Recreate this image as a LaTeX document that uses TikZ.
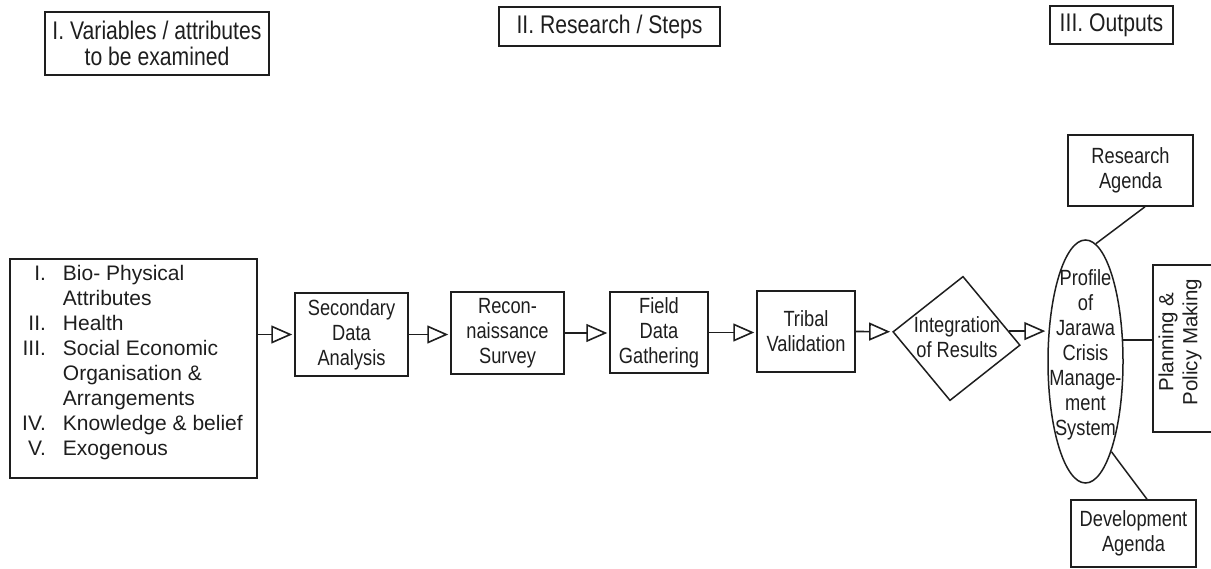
\documentclass[tikz,border=0pt]{standalone}
\usepackage{fontspec}
\setmainfont{Liberation Sans}
\newfontfamily\condf[FakeStretch=0.83]{Liberation Sans}
\usetikzlibrary{arrows.meta,shapes.geometric,calc}
\definecolor{ink}{HTML}{1e1e1e}
\begin{document}
\begin{tikzpicture}[x=1pt,y=1pt,
  box/.style={draw=ink, line width=1.5pt, inner sep=0pt},
  bodytxt/.style={text=ink, font=\condf\fontsize{22}{25}\selectfont, align=center},
  hdr/.style={text=ink, font=\condf\fontsize{25.5}{26.5}\selectfont, align=center},
  arr/.style={draw=ink, line width=1.6pt, -{Triangle[open,length=21pt,width=18pt,line width=1.6pt]}, shorten >=2pt},
  link/.style={draw=ink, line width=1.5pt}]
\useasboundingbox (0,0) rectangle (1211,-569);

% headers
\node[box, minimum width=224pt, minimum height=63pt, hdr] (h1) at (157,-43.5) {I. Variables / attributes\\to be examined};
\node[box, minimum width=221pt, minimum height=39pt, hdr] (h2) at (609.5,-26.5) {II. Research / Steps};
\node[box, minimum width=123pt, minimum height=38pt, hdr] (h3) at (1111.5,-25) {III. Outputs};

% variables box
\node[box, minimum width=247pt, minimum height=219pt] (vars) at (133.5,-368.5) {};
\node[text=ink, font=\fontsize{21}{25}\selectfont, anchor=west, inner sep=0pt] (varstxt) at (22,-363.5)
  {\begin{tabular}{@{}r@{\hspace{17pt}}l@{}}
   I. & Bio- Physical\\
      & Attributes\\
   II. & Health\\
   III. & Social Economic\\
      & Organisation \&\\
      & Arrangements\\
   IV. & Knowledge \& belief\\
   V. & Exogenous
   \end{tabular}};

% steps
\node[box, minimum width=113pt, minimum height=83pt, bodytxt] (sec) at (351.5,-334.5) {Secondary\\Data\\Analysis};
\node[box, minimum width=113pt, minimum height=82pt, bodytxt] (rec) at (507.5,-333) {Recon-\\naissance\\Survey};
\node[box, minimum width=98pt, minimum height=81pt, bodytxt] (field) at (659,-332.5) {Field\\Data\\Gathering};
\node[box, minimum width=98pt, minimum height=81pt, bodytxt] (tribal) at (806,-331.5) {Tribal\\Validation};
\node[draw=ink, line width=1.5pt, diamond, rotate=-6, minimum width=128pt, minimum height=125pt, inner sep=0pt] (integ) at (956.5,-338.5) {};
\node[bodytxt] (integtxt) at (957,-337.5) {Integration\\of Results};

% outputs
\node[draw=ink, line width=1.5pt, ellipse, minimum width=75pt, minimum height=243pt, inner sep=0pt] (prof) at (1085.5,-361.5) {};
\node[bodytxt] (proftxt) at (1085.5,-355) {Profile\\of\\Jarawa\\Crisis\\Manage-\\ment\\System};
\node[box, minimum width=125pt, minimum height=71pt, bodytxt] (res) at (1130.5,-170.5) {Research\\Agenda};
\node[box, minimum width=66pt, minimum height=167pt] (plan) at (1186,-348.5) {};
\node[rotate=90, text=ink, font=\fontsize{20.5}{24}\selectfont, align=center] (plantxt) at (1180,-342) {Planning \&\\Policy Making};
\node[box, minimum width=125pt, minimum height=67pt, bodytxt] (dev) at (1133.5,-533.5) {Development\\Agenda};

% arrows
\draw[arr] (vars.east |- sec.west) -- (sec.west);
\draw[arr] (sec.east) -- (rec.west |- sec.east);
\draw[arr] (rec.east) -- (field.west |- rec.east);
\draw[arr] (field.east) -- (tribal.west |- field.east);
\draw[arr] (tribal.east) -- (integ.west);
\draw[arr] (integ.14) -- (integ.14 -| prof.west);

% links
\draw[link] ([xshift=14.5pt]res.south) -- (prof.85);
\draw[link] (prof.30) -- (prof.30 -| plan.west);
\draw[link] (prof.-74) -- ([xshift=13.5pt]dev.north);
\end{tikzpicture}
\end{document}
